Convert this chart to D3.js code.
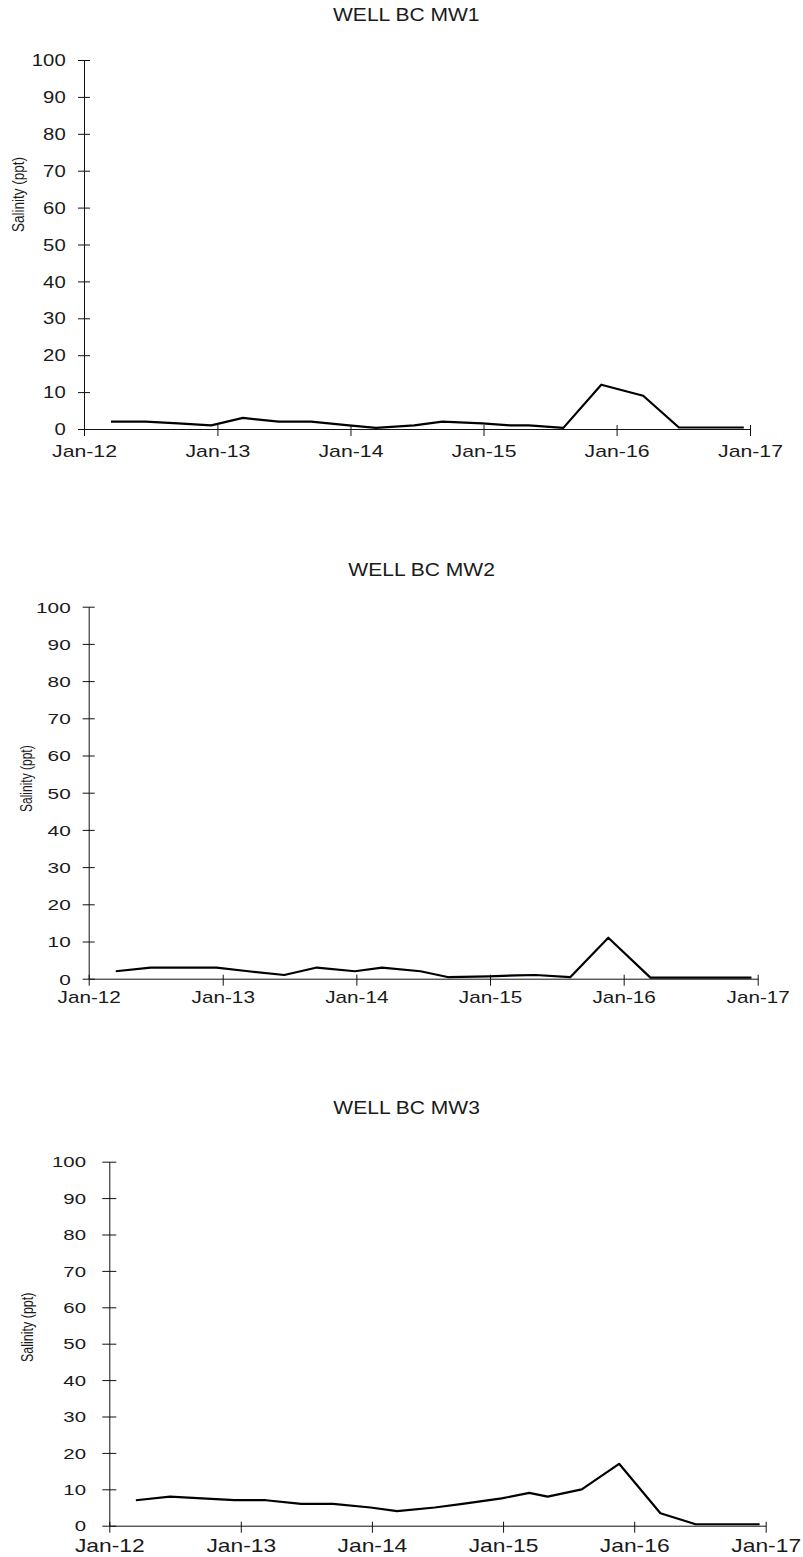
<!DOCTYPE html>
<html>
<head>
<meta charset="utf-8">
<script src="https://cdn.jsdelivr.net/npm/d3@7"></script>
<style>
  html, body { margin: 0; padding: 0; background: #fff; }
  svg { display: block; }
  text { font-family: "Liberation Sans", Arial, sans-serif; fill: #1a1a1a; }
</style>
</head>
<body>
<svg id="chart" width="803" height="1557"></svg>
<script>
// Sampling dates (shared by the three wells)
const sampleDates = [
  "2012-03-15", "2012-06-18", "2012-09-15", "2012-12-15",
  "2013-03-12", "2013-06-18", "2013-09-15", "2013-12-28",
  "2014-03-12", "2014-06-25", "2014-09-10", "2014-12-28",
  "2015-03-15", "2015-05-05", "2015-08-08", "2015-11-20",
  "2016-03-14", "2016-06-20", "2016-09-15", "2016-12-15"
];

// Salinity (ppt) per well
const mw1 = [2, 2, 1.5, 1, 3, 2, 2, 1, 0.3, 1, 2, 1.5, 1, 1, 0.3, 12, 9, 0.4, 0.4, 0.4];
const mw2 = [2, 3, 3, 3, 2, 1, 3, 2, 3, 2, 0.4, 0.6, 0.9, 1, 0.4, 11, 0.3, 0.3, 0.3, 0.3];
const mw3 = [7, 8, 7.5, 7, 7, 6, 6, 5, 4, 5, 6, 7.5, 9, 8, 10, 17, 3.4, 0.4, 0.4, 0.4];

const wellNames = ["WELL BC MW1", "WELL BC MW2", "WELL BC MW3"];
const yTicks = [0, 10, 20, 30, 40, 50, 60, 70, 80, 90, 100];
const xTickDates = ["2012-01-01", "2013-01-01", "2014-01-01", "2015-01-01", "2016-01-01", "2017-01-01"];
const yAxisTitle = "Salinity (ppt)";

const parse = d3.timeParse("%Y-%m-%d");
const fmt = d3.timeFormat("%b-%y");

// Panel geometry and text styling
const layout = [
  { left: 84, right: 750, top: 60, bottom: 429, ytick: 6,
    yFont: 16, ySx: 1.27, yGap: 18.3, xFont: 17, xSx: 1.25, xBase: 27.7,
    tX: 333, tY: 20.7, tFont: 18, tSx: 1.17,
    lX: 24, lY: 232, lFont: 13.5, lSx: 1.25 },
  { left: 88.7, right: 757.7, top: 606.7, bottom: 978.7, ytick: 6,
    yFont: 15.4, ySx: 1.35, yGap: 18, xFont: 16.2, xSx: 1.28, xBase: 24.6,
    tX: 348.3, tY: 576, tFont: 18, tSx: 1.17,
    lX: 32, lY: 812, lFont: 12, lSx: 1.3 },
  { left: 109.3, right: 765.7, top: 1161.7, bottom: 1525.7, ytick: 7,
    yFont: 15, ySx: 1.36, yGap: 23.3, xFont: 17.7, xSx: 1.29, xBase: 26.3,
    tX: 333.3, tY: 1114, tFont: 18, tSx: 1.17,
    lX: 33, lY: 1362, lFont: 12.5, lSx: 1.3 }
];

const series = [mw1, mw2, mw3];
const svg = d3.select("#chart");
const dates = sampleDates.map(parse);
const xTicks = xTickDates.map(parse);

layout.forEach((L, i) => {
  const x = d3.scaleTime().domain([xTicks[0], xTicks[xTicks.length - 1]]).range([L.left, L.right]);
  const y = d3.scaleLinear().domain([0, 100]).range([L.bottom, L.top]);
  const g = svg.append("g");

  // Title
  g.append("text")
    .attr("transform", `translate(${L.tX},${L.tY}) scale(${L.tSx},1)`)
    .attr("font-size", L.tFont)
    .attr("text-anchor", "start")
    .text(wellNames[i]);

  // Y axis
  const ya = g.append("g")
    .attr("transform", `translate(${L.left},0)`)
    .call(d3.axisLeft(y).tickValues(yTicks).tickSize(L.ytick).tickSizeOuter(0));
  ya.attr("font-family", null);
  ya.select(".domain").attr("stroke", "#111");
  ya.selectAll(".tick line").attr("x1", L.ytick).attr("stroke", "#111");
  ya.selectAll(".tick text")
    .attr("x", 0).attr("dy", "0.35em")
    .attr("font-size", L.yFont)
    .attr("fill", "#1a1a1a")
    .attr("transform", `translate(${-L.yGap},0) scale(${L.ySx},1)`);

  // X axis
  const xa = g.append("g")
    .attr("transform", `translate(0,${L.bottom})`)
    .call(d3.axisBottom(x).tickValues(xTicks).tickFormat(fmt).tickSize(7).tickSizeOuter(0));
  xa.attr("font-family", null);
  xa.select(".domain").attr("stroke", "#111");
  xa.selectAll(".tick line").attr("y1", -4).attr("stroke", "#111");
  xa.selectAll(".tick text")
    .attr("y", L.xBase).attr("dy", 0)
    .attr("font-size", L.xFont)
    .attr("fill", "#1a1a1a")
    .attr("transform", `scale(${L.xSx},1)`);

  // Y axis title
  g.append("text")
    .attr("transform", `translate(${L.lX},${L.lY}) scale(${L.lSx},1) rotate(-90)`)
    .attr("font-size", L.lFont)
    .attr("text-anchor", "start")
    .text(yAxisTitle);

  // Salinity line
  const line = d3.line().x((d, k) => x(dates[k])).y(d => y(d));
  g.append("path")
    .datum(series[i])
    .attr("fill", "none")
    .attr("stroke", "#000")
    .attr("stroke-width", 2.2)
    .attr("stroke-linejoin", "round")
    .attr("d", line);
});
</script>
</body>
</html>
